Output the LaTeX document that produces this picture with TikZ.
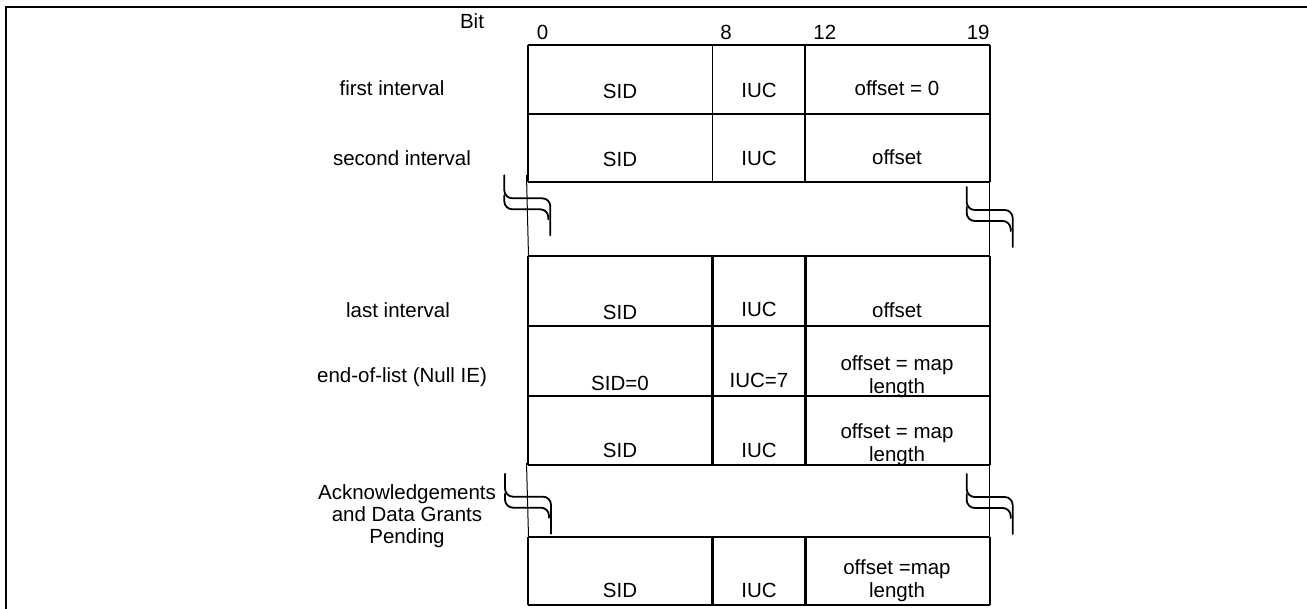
\documentclass[tikz,border=0pt]{standalone}
\usepackage{fontspec}
\setmainfont{Liberation Sans}
\usetikzlibrary{calc}

\tikzset{
  txt/.style={inner sep=0pt, font=\fontsize{10.25}{11.5}\selectfont, align=center},
  rowline/.style={line width=1pt},
  thincol/.style={line width=0.65pt},
  thickcol/.style={line width=1.5pt},
  brk/.style={line width=0.9pt, rounded corners=4pt, line cap=round},
}
% marca de corte: #1 = x del trazo vertical, #2 = y del primer trazo horizontal
\newcommand{\brkmark}[2]{%
  \draw[brk] (#1,#2-23) -- (#1,#2) -- (#1+46,#2) -- (#1+46,#2+37);
  \draw[brk] (#1,#2-3) -- (#1,#2+11) -- (#1+44,#2+11) -- (#1+44,#2+21);
}

\begin{document}
\begin{tikzpicture}[x=0.5pt, y=-0.5pt]
  \useasboundingbox (0,0) rectangle (1307,609);
  \draw[line width=1pt] (6,609) -- (6,7) -- (1307,7);

  % filas y columnas
  \foreach \y in {45,114.5,182.5,256.5,326,395.5,465,536.5,604.5}
    \draw[rowline] (528,\y) -- (989.5,\y);
  \foreach \a/\b in {45/182.5,256.5/465,536.5/604.5}{
    \draw[rowline] (528,\a) -- (528,\b);
    \draw[rowline] (989.5,\a) -- (989.5,\b);
  }
  \foreach \x in {712.5,805}{
    \draw[thincol] (\x,45) -- (\x,182.5);
    \draw[thickcol] (\x,256.5) -- (\x,465);
    \draw[thickcol] (\x,536.5) -- (\x,604.5);
  }

  % huecos
  \draw[line width=0.5pt] (526.5,175) -- (528.5,256.5);
  \draw[line width=0.8pt] (989.5,175) -- (989.5,256.5);
  \draw[line width=0.5pt] (526.5,463) -- (528.5,536.5);
  \draw[line width=0.8pt] (989.5,463) -- (989.5,536.5);
  \brkmark{504.3}{198.3}
  \brkmark{966.7}{210}
  \brkmark{505}{496.7}
  \brkmark{966.7}{497}

  % bits
  \node[txt] (bit) at (472,21) {Bit};
  \node[txt, anchor=west] (b0) at (536.5,32.5) {0};
  \node[txt, anchor=west] (b8) at (720,32.5) {8};
  \node[txt, anchor=west] (b12) at (813,32.5) {12};
  \node[txt, anchor=east] (b19) at (990,32.5) {19};

  % etiquetas
  \node[txt] (first) at (392,88) {first interval};
  \node[txt] (second) at (402,158) {second interval};
  \node[txt] (last) at (398,310) {last interval};
  \node[txt] (eol) at (402,377) {end-of-list (Null IE)};
  \node[txt, font=\fontsize{10.25}{11}\selectfont] (ack) at (407,516) {Acknowledgements\\and Data Grants\\Pending};

  % campos
  \node[txt] (sid1) at (620,91) {SID};
  \node[txt] (iuc1) at (759,90) {IUC};
  \node[txt] (off1) at (897,88) {offset = 0};
  \node[txt] (sid2) at (620,159) {SID};
  \node[txt] (iuc2) at (759,158) {IUC};
  \node[txt] (off2) at (897,157) {offset};
  \node[txt] (sid3) at (620,312) {SID};
  \node[txt] (iuc3) at (759,309) {IUC};
  \node[txt] (off3) at (897,310) {offset};
  \node[txt] (sid4) at (620,383) {SID=0};
  \node[txt] (iuc4) at (759,380) {IUC=7};
  \node[txt] (off4) at (897,376.5) {offset = map\\length};
  \node[txt] (sid5) at (620,450) {SID};
  \node[txt] (iuc5) at (759,450) {IUC};
  \node[txt] (off5) at (897,444.5) {offset = map\\length};
  \node[txt] (sid6) at (620,590) {SID};
  \node[txt] (iuc6) at (759,590) {IUC};
  \node[txt] (off6) at (897,581) {offset =map\\length};
\end{tikzpicture}
\end{document}
